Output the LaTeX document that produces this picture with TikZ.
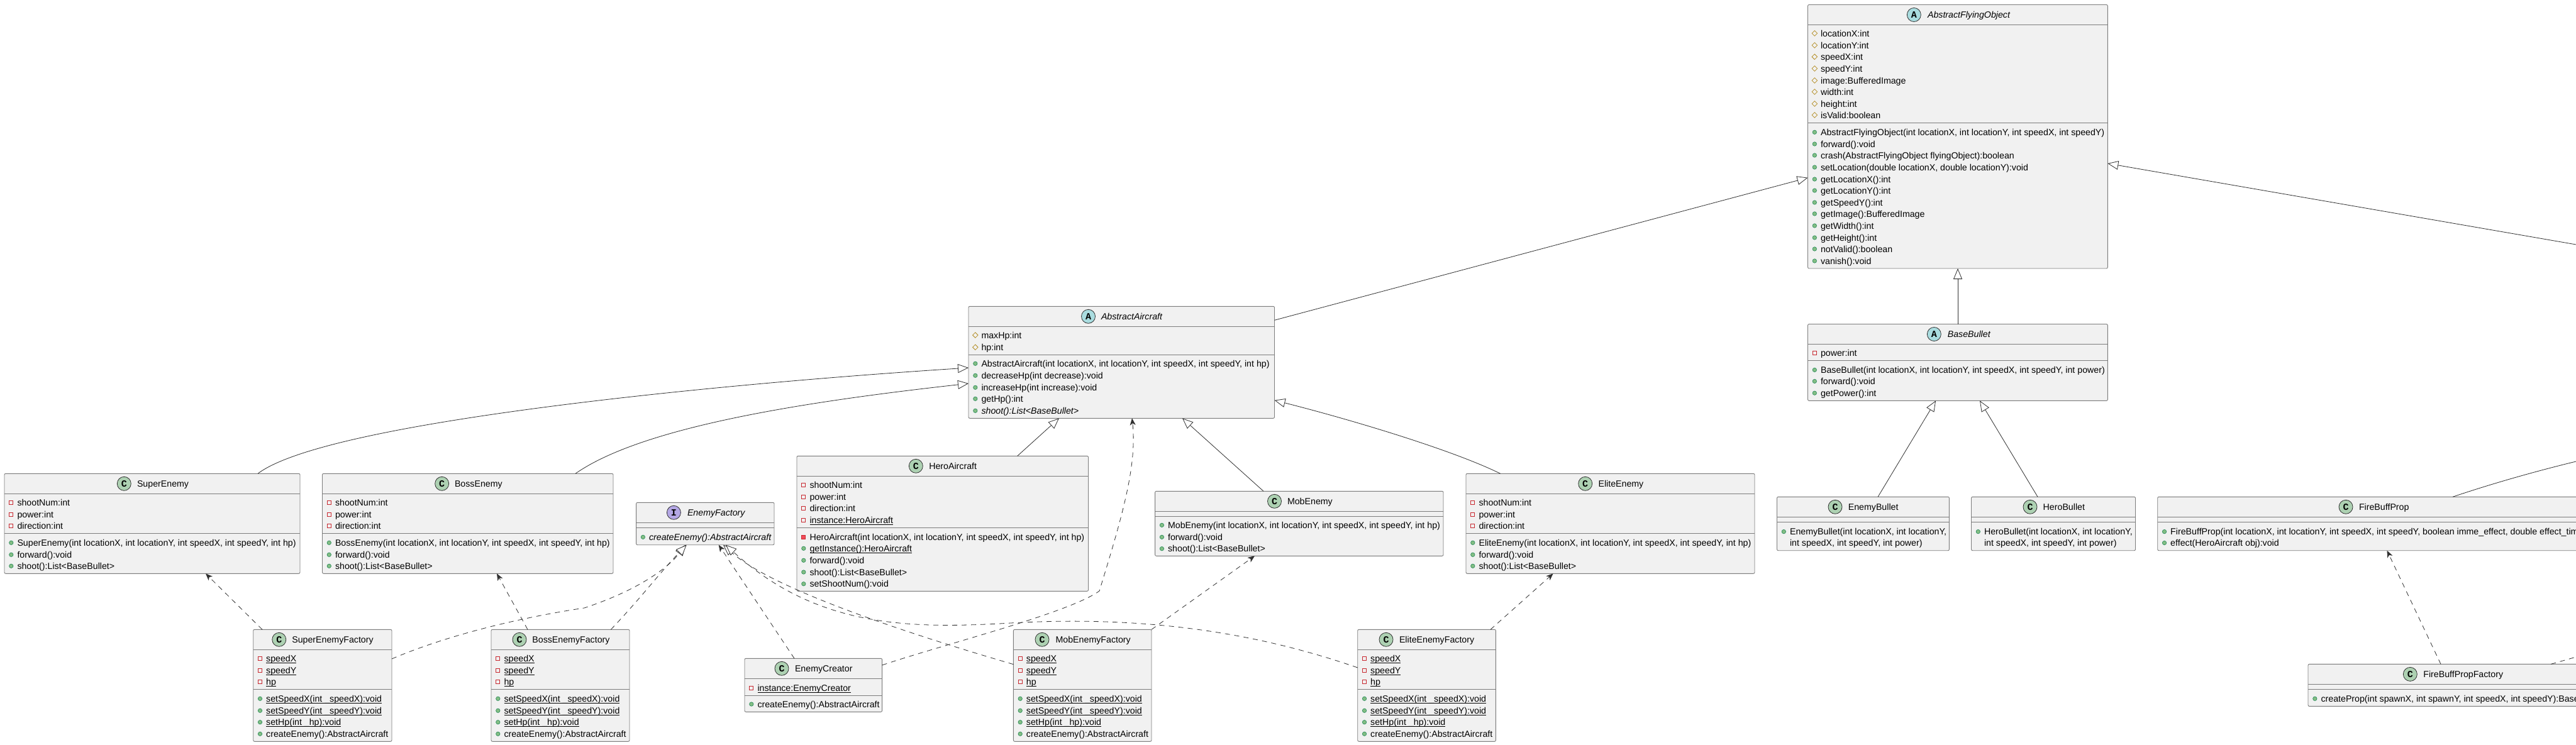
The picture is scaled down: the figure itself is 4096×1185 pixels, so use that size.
\documentclass[tikz,border=0pt]{standalone}
\usepackage{fontspec}
\setmainfont{Liberation Sans}
\newfontfamily\stfont{Liberation Mono}
\usetikzlibrary{arrows.meta,shapes.geometric}
\definecolor{edgeC}{HTML}{303030}
\definecolor{boxC}{HTML}{7C7C7C}
\definecolor{boxF}{HTML}{F1F1F1}
\definecolor{stA}{HTML}{A9DCDF}
\definecolor{stC}{HTML}{ADD1B2}
\definecolor{stI}{HTML}{B4A7E5}
\definecolor{privC}{HTML}{C82930}
\definecolor{privF}{HTML}{F24D5C}
\definecolor{protC}{HTML}{B38D22}
\definecolor{pubC}{HTML}{2F8F5F}
\definecolor{pubF}{HTML}{84BE84}
\newcommand\fsz{\fontsize{14.2pt}{17pt}\selectfont}
\tikzset{
  umlrect/.style={draw=boxC,fill=boxF,line width=.9pt,rounded corners=2pt,outer sep=0pt,inner sep=0pt},
  divider/.style={draw=boxC,line width=.9pt},
  rowtext/.style={anchor=west,inner sep=0pt,outer sep=0pt,text height=12.5pt,text depth=2pt,font=\fsz,text=black},
  stcirc/.style={circle,draw=edgeC,line width=.8pt,minimum size=22pt,inner sep=0pt,font=\stfont\bfseries\fontsize{15pt}{15pt}\selectfont},
  icpub/.style={circle,draw=pubC,fill=pubF,line width=.7pt,minimum size=6.4pt,inner sep=0pt,outer sep=0pt},
  icprivf/.style={rectangle,draw=privC,fill=none,line width=.8pt,minimum size=6pt,inner sep=0pt,outer sep=0pt},
  icprivm/.style={rectangle,draw=privC,fill=privF,line width=.8pt,minimum size=6pt,inner sep=0pt,outer sep=0pt},
  icprot/.style={diamond,draw=protC,fill=none,line width=.8pt,minimum size=8.5pt,inner sep=0pt,outer sep=0pt},
  inh/.style={draw=edgeC,line width=.8pt,-{Triangle[open,fill=white,length=17pt,width=14pt]}},
  real/.style={inh,dash pattern=on 8pt off 7pt},
  dep/.style={draw=edgeC,line width=.8pt,dash pattern=on 8pt off 7pt,-{Stealth[inset=3pt,length=11pt,width=9pt]}},
  freeline/.style={draw=edgeC,line width=.8pt},
  freedash/.style={draw=edgeC,line width=.8pt,dash pattern=on 8pt off 7pt},
}
\newcounter{rowno}
\newcommand\uln[1]{\setbox0\hbox{#1}\rlap{\rule[-2pt]{\wd0}{.9pt}}\box0}
% name x1 y1 x2 y2 ydiv1 ydiv2
\newcommand\umlbox[7]{%
  \pgfmathsetmacro\wbox{#4-#2}\pgfmathsetmacro\hgtbox{#5-#3}%
  \pgfmathsetmacro\xc{(#2+#4)/2}\pgfmathsetmacro\yc{(#3+#5)/2}%
  \def\bx{#2}\def\by{#3}%
  \node[umlrect,minimum width=\wbox pt,minimum height=\hgtbox pt] (#1) at (\xc,\yc) {};
  \draw[divider] (#1.west |- 0,#6) -- (#1.east |- 0,#6);
  \draw[divider] (#1.west |- 0,#7) -- (#1.east |- 0,#7);
}
% colour letter cx tx title
\newcommand\umlhead[5]{%
  \stepcounter{rowno}%
  \node[stcirc,fill=#1] (st\therowno) at (#3,\by+16) {#2};
  \node[rowtext] (ti\therowno) at (#4,\by+16) {#5};
}
\newcommand\rowT[2]{\stepcounter{rowno}\node[rowtext] (tx\therowno) at (\bx+20.5,#1) {#2};}
\newcommand\mpub[2]{\rowT{#1}{#2}\node[icpub] (ic\therowno) at (\bx+10.8,#1) {};}
\newcommand\fpriv[2]{\rowT{#1}{#2}\node[icprivf] (ic\therowno) at (\bx+10.8,#1) {};}
\newcommand\mpriv[2]{\rowT{#1}{#2}\node[icprivm] (ic\therowno) at (\bx+10.8,#1) {};}
\newcommand\fprot[2]{\rowT{#1}{#2}\node[icprot] (ic\therowno) at (\bx+10.8,#1) {};}
\begin{document}
\begin{tikzpicture}[x=1pt,y=-1pt]
\useasboundingbox (0,0) rectangle (4096,1185);
\clip (0,0) rectangle (4096,1185);
\fill[white] (0,0) rectangle (4096,1185);

% ---------- boxes
\umlbox{AFO}{2874.5}{7.5}{3351.3}{427}{39}{195}
\umlhead{stA}{A}{3043.3}{3065}{\itshape AbstractFlyingObject}
\fprot{53}{locationX:int}\fprot{72}{locationY:int}\fprot{90.3}{speedX:int}\fprot{109}{speedY:int}
\fprot{128}{image:BufferedImage}\fprot{146}{width:int}\fprot{165}{height:int}\fprot{183}{isValid:boolean}
\mpub{210.3}{AbstractFlyingObject(int locationX, int locationY, int speedX, int speedY)}
\mpub{229}{forward():void}\mpub{247}{crash(AbstractFlyingObject flyingObject):boolean}
\mpub{266}{setLocation(double locationX, double locationY):void}
\mpub{285}{getLocationX():int}\mpub{303}{getLocationY():int}\mpub{322}{getSpeedY():int}
\mpub{340}{getImage():BufferedImage}\mpub{359}{getWidth():int}\mpub{378}{getHeight():int}
\mpub{396}{notValid():boolean}\mpub{415}{vanish():void}

\umlbox{AA}{1540}{487.3}{2026.5}{665.3}{519.3}{564.7}
\umlhead{stA}{A}{1730.5}{1751}{\itshape AbstractAircraft}
\fprot{533}{maxHp:int}\fprot{552.3}{hp:int}
\mpub{578.3}{AbstractAircraft(int locationX, int locationY, int speedX, int speedY, int hp)}
\mpub{597.3}{decreaseHp(int decrease):void}\mpub{616.3}{increaseHp(int increase):void}
\mpub{634.3}{getHp():int}\mpub{653.3}{\itshape shoot():List<BaseBullet>}

\umlbox{BB}{2874.5}{515.5}{3351.3}{637.4}{547.4}{573.5}
\umlhead{stA}{A}{3075.3}{3096.8}{\itshape BaseBullet}
\fpriv{561.4}{power:int}
\mpub{588.4}{BaseBullet(int locationX, int locationY, int speedX, int speedY, int power)}
\mpub{606.4}{forward():void}\mpub{625.2}{getPower():int}

\umlbox{SE}{7}{753.3}{477}{912.3}{785.3}{848.3}
\umlhead{stC}{C}{197.3}{218}{SuperEnemy}
\fpriv{799.3}{shootNum:int}\fpriv{818.3}{power:int}\fpriv{836.7}{direction:int}
\mpub{863.3}{SuperEnemy(int locationX, int locationY, int speedX, int speedY, int hp)}
\mpub{882.3}{forward():void}\mpub{900.3}{shoot():List<BaseBullet>}

\umlbox{BE}{512.5}{753.3}{975}{912.3}{785.3}{848.3}
\umlhead{stC}{C}{702.7}{723}{BossEnemy}
\fpriv{799.3}{shootNum:int}\fpriv{818.3}{power:int}\fpriv{836.7}{direction:int}
\mpub{863.3}{BossEnemy(int locationX, int locationY, int speedX, int speedY, int hp)}
\mpub{882.3}{forward():void}\mpub{900.3}{shoot():List<BaseBullet>}

\umlbox{EE}{2331}{753.3}{2790}{912.3}{785.3}{848.3}
\umlhead{stC}{C}{2520.7}{2541.5}{EliteEnemy}
\fpriv{799.3}{shootNum:int}\fpriv{818.3}{power:int}\fpriv{836.7}{direction:int}
\mpub{863.3}{EliteEnemy(int locationX, int locationY, int speedX, int speedY, int hp)}
\mpub{882.3}{forward():void}\mpub{900.3}{shoot():List<BaseBullet>}

\umlbox{ME}{1836.6}{781.3}{2295}{884.3}{813.3}{821.3}
\umlhead{stC}{C}{2026.5}{2047}{MobEnemy}
\mpub{835.3}{MobEnemy(int locationX, int locationY, int speedX, int speedY, int hp)}
\mpub{854.3}{forward():void}\mpub{872.7}{shoot():List<BaseBullet>}

\umlbox{HA}{1267}{725.3}{1730.5}{940.3}{757.3}{839.3}
\umlhead{stC}{C}{1456.3}{1477.3}{HeroAircraft}
\fpriv{771.3}{shootNum:int}\fpriv{790.3}{power:int}\fpriv{808.7}{direction:int}
\fpriv{827.3}{\uln{instance:HeroAircraft}}
\mpriv{854.3}{HeroAircraft(int locationX, int locationY, int speedX, int speedY, int hp)}
\mpub{872.3}{\uln{getInstance():HeroAircraft}}\mpub{891.3}{forward():void}
\mpub{910}{shoot():List<BaseBullet>}\mpub{928.7}{setShootNum():void}

\umlbox{EF}{1011.6}{799.3}{1231}{866.7}{831.3}{839.3}
\umlhead{stI}{I}{1071.4}{1093}{\itshape EnemyFactory}
\mpub{854.3}{\itshape createEnemy():AbstractAircraft}

\umlbox{SF}{402.7}{1001.3}{623}{1179.3}{1033.3}{1096.3}
\umlhead{stC}{C}{443.8}{464.3}{SuperEnemyFactory}
\fpriv{1047.3}{\uln{speedX}}\fpriv{1066.3}{\uln{speedY}}\fpriv{1084.7}{\uln{hp}}
\mpub{1111.3}{\uln{setSpeedX(int \_speedX):void}}\mpub{1130.3}{\uln{setSpeedY(int \_speedY):void}}
\mpub{1148.7}{\uln{setHp(int \_hp):void}}\mpub{1167.3}{createEnemy():AbstractAircraft}

\umlbox{BF}{781}{1001.3}{1001}{1179.3}{1033.3}{1096.3}
\umlhead{stC}{C}{826}{846.4}{BossEnemyFactory}
\fpriv{1047.3}{\uln{speedX}}\fpriv{1066.3}{\uln{speedY}}\fpriv{1084.7}{\uln{hp}}
\mpub{1111.3}{\uln{setSpeedX(int \_speedX):void}}\mpub{1130.3}{\uln{setSpeedY(int \_speedY):void}}
\mpub{1148.7}{\uln{setHp(int \_hp):void}}\mpub{1167.3}{createEnemy():AbstractAircraft}

\umlbox{MF}{1611.4}{1001.3}{1831}{1179.3}{1033.3}{1096.3}
\umlhead{stC}{C}{1657}{1678.6}{MobEnemyFactory}
\fpriv{1047.3}{\uln{speedX}}\fpriv{1066.3}{\uln{speedY}}\fpriv{1084.7}{\uln{hp}}
\mpub{1111.3}{\uln{setSpeedX(int \_speedX):void}}\mpub{1130.3}{\uln{setSpeedY(int \_speedY):void}}
\mpub{1148.7}{\uln{setHp(int \_hp):void}}\mpub{1167.3}{createEnemy():AbstractAircraft}

\umlbox{LF}{2158.7}{1001.3}{2378.4}{1179.3}{1033.3}{1096.3}
\umlhead{stC}{C}{2204}{2225}{EliteEnemyFactory}
\fpriv{1047.3}{\uln{speedX}}\fpriv{1066.3}{\uln{speedY}}\fpriv{1084.7}{\uln{hp}}
\mpub{1111.3}{\uln{setSpeedX(int \_speedX):void}}\mpub{1130.3}{\uln{setSpeedY(int \_speedY):void}}
\mpub{1148.7}{\uln{setHp(int \_hp):void}}\mpub{1167.3}{createEnemy():AbstractAircraft}

\umlbox{EC}{1184}{1047.3}{1402.6}{1132.3}{1079.3}{1106.7}
\umlhead{stC}{C}{1243}{1264}{EnemyCreator}
\fpriv{1094.3}{\uln{instance:EnemyCreator}}
\mpub{1120}{createEnemy():AbstractAircraft}

\umlbox{EB}{2825.5}{790.3}{3099.4}{875.7}{822.6}{830.3}
\umlhead{stC}{C}{2918}{2938.8}{EnemyBullet}
\mpub{845.6}{EnemyBullet(int locationX, int locationY,}
\rowT{863.5}{int speedX, int speedY, int power)}

\umlbox{HB}{3134.5}{790.3}{3395.5}{875.7}{822.6}{830.3}
\umlhead{stC}{C}{3228}{3248.7}{HeroBullet}
\mpub{845.6}{HeroBullet(int locationX, int locationY,}
\rowT{863.5}{int speedX, int speedY, int power)}

\umlbox{FP}{3430.7}{790.3}{4110}{875.7}{822.6}{830.3}
\umlhead{stC}{C}{3730}{3751}{FireBuffProp}
\mpub{845.6}{FireBuffProp(int locationX, int locationY, int speedX, int speedY, boolean imme\_effect, double effect\_tim}
\mpub{863.5}{effect(HeroAircraft obj):void}

\umlbox{FF}{3670}{1056.4}{4110}{1123.4}{1088.4}{1096}
\umlhead{stC}{C}{3832.3}{3853.3}{FireBuffPropFactory}
\mpub{1111.3}{createProp(int spawnX, int spawnY, int speedX, int speedY):Base}

% ---------- free ends at the picture edge
\coordinate (edgeOne) at (4096,389);
\coordinate (edgeTwo) at (4096,734);
\coordinate (edgeThree) at (4096,1045);

% ---------- inheritance
\draw[inh] (AA.east |- 0,509.3) -- (AFO.west |- 0,282.7);
\draw[inh] (edgeOne) -- (AFO.east |- 0,260);
\draw[inh] (BB.north -| 3113,0) -- (AFO.south -| 3113,0);
\draw[inh] (SE.north -| 410,0) .. controls (520,670) and (1150,610) .. (AA.west |- 0,585);
\draw[inh] (BE.north -| 915,0) .. controls (1020,680) and (1270,640) .. (AA.west |- 0,610);
\draw[inh] (HA.north -| 1617.7,0) -- (AA.south -| 1684,0);
\draw[inh] (ME.north -| 2009,0) -- (AA.south -| 1880,0);
\draw[inh] (EE.north -| 2385.6,0) .. controls (2310,716) and (2150,668) .. (AA.east |- 0,636.7);
\draw[inh] (EB.north -| 2986,0) -- (BB.south -| 3078,0);
\draw[inh] (HB.north -| 3240,0) -- (BB.south -| 3148,0);
\draw[freeline] (FP.north -| 3900,0) .. controls (3960,770) and (4030,750) .. (edgeTwo);

% ---------- realisation
\draw[real] (SF.east |- 0,1048) .. controls (700,1015) and (810,985) .. (929,967) .. controls (1020,937) and (1065,900) .. (EF.south -| 1090,0);
\draw[real] (BF.north -| 971.4,0) .. controls (1020,950) and (1050,910) .. (EF.south -| 1091.7,0);
\draw[real] (MF.west |- 0,1056.7) .. controls (1400,995) and (1220,930) .. (EF.south -| 1150,0);
\draw[real] (LF.west |- 0,1062) .. controls (1980,1000) and (1800,980) .. (1607,991) .. controls (1450,1000) and (1300,1000) .. (EF.south -| 1154,0);

% ---------- dependencies
\draw[dep] (EC.north -| 1263,0) -- (EF.south -| 1142.7,0);
\draw[dep] (EC.east |- 0,1058) .. controls (1500,1025) and (1700,975) .. (1748,940) .. controls (1785,820) and (1808,740) .. (AA.south -| 1800,0);
\draw[dep] (SF.north -| 417,0) -- (SE.south -| 327,0);
\draw[dep] (BF.north -| 839,0) -- (BE.south -| 790,0);
\draw[dep] (MF.north -| 1831,0) -- (ME.south -| 1995,0);
\draw[dep] (LF.north -| 2370,0) -- (EE.south -| 2469.6,0);
\draw[dep] (FF.north -| 3881,0) -- (FP.south -| 3795.5,0);
\draw[freedash] (FF.north -| 4056,0) -- (edgeThree);
\end{tikzpicture}
\end{document}
